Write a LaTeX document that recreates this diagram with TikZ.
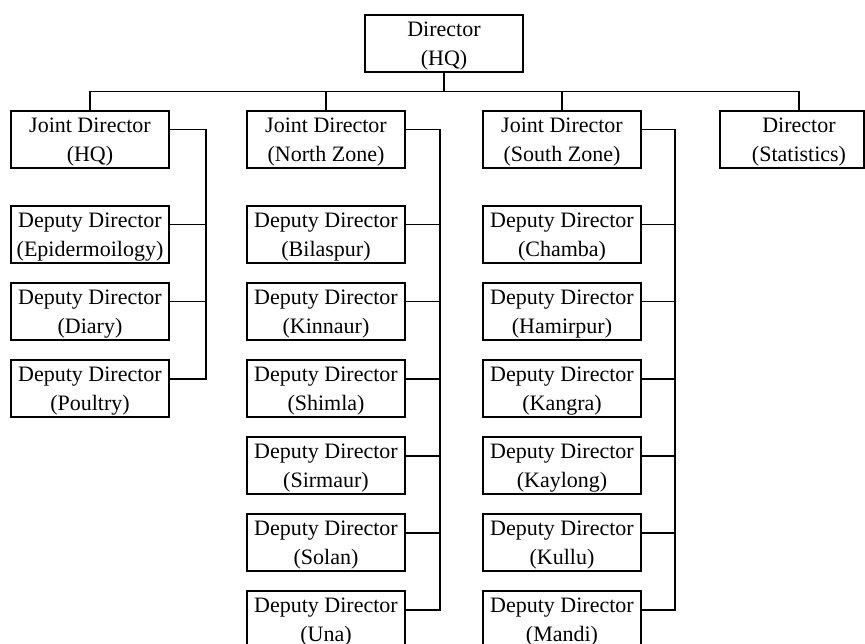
\documentclass[tikz,border=0pt]{standalone}
\usepackage{fontspec}
\setmainfont{Liberation Serif}
\begin{document}
\begin{tikzpicture}[x=1pt,y=-1pt,
  box/.style={draw,line width=1.8pt,minimum width=158pt,minimum height=57pt,
    inner sep=0pt,align=center,text depth=-5pt,
    font=\fontsize{22}{29}\selectfont},
  link/.style={line width=1.8pt}]
\useasboundingbox (0,0) rectangle (865,644);
\clip (0,0) rectangle (865,644);

% top level
\node[box] (top) at (444,43.5) {Director\\(HQ)};
\node[box] (jdh) at (90,139.5) {Joint Director\\(HQ)};
\node[box] (jdn) at (326,139.5) {Joint Director\\(North Zone)};
\node[box] (jds) at (562,139.5) {Joint Director\\(South Zone)};
\node[box,minimum width=144pt] (stat) at (792,139.5)
  {\hspace*{14pt}Director\\\hspace*{14pt}(Statistics)};

% HQ deputies
\node[box] (h1) at (90,234.5) {Deputy Director\\(Epidermoilogy)};
\node[box] (h2) at (90,311.5) {Deputy Director\\(Diary)};
\node[box] (h3) at (90,388.5) {Deputy Director\\(Poultry)};

% North zone deputies
\node[box] (n1) at (326,234.5) {Deputy Director\\(Bilaspur)};
\node[box] (n2) at (326,311.5) {Deputy Director\\(Kinnaur)};
\node[box] (n3) at (326,388.5) {Deputy Director\\(Shimla)};
\node[box] (n4) at (326,465.5) {Deputy Director\\(Sirmaur)};
\node[box] (n5) at (326,542.5) {Deputy Director\\(Solan)};
\node[box] (n6) at (326,619.5) {Deputy Director\\(Una)};

% South zone deputies
\node[box] (s1) at (562,234.5) {Deputy Director\\(Chamba)};
\node[box] (s2) at (562,311.5) {Deputy Director\\(Hamirpur)};
\node[box] (s3) at (562,388.5) {Deputy Director\\(Kangra)};
\node[box] (s4) at (562,465.5) {Deputy Director\\(Kaylong)};
\node[box] (s5) at (562,542.5) {Deputy Director\\(Kullu)};
\node[box] (s6) at (562,619.5) {Deputy Director\\(Mandi)};

% bus below the director
\coordinate (bus) at (0,91.5);
\draw[link] (top.south) -- (top.south |- bus);
\draw[link] (jdh.north) -- (jdh.north |- bus) -- ([xshift=7pt]stat.north |- bus)
  -- ([xshift=7pt]stat.north);
\draw[link] (jdn.north) -- (jdn.north |- bus);
\draw[link] (jds.north) -- (jds.north |- bus);

% trunks on the right of each joint director
\coordinate (htrunk) at (206,0);
\coordinate (ntrunk) at (440,0);
\coordinate (strunk) at (675,0);

\draw[link] ([yshift=-19.5pt]jdh.north east) coordinate (jh) -- (jh -| htrunk)
  -- ([yshift=-19.5pt]h3.north east -| htrunk) -- ([yshift=-19.5pt]h3.north east);
\foreach \n in {h1,h2}
  \draw[link] ([yshift=-19.5pt]\n.north east) coordinate (p) -- (p -| htrunk);

\draw[link] ([yshift=-19.5pt]jdn.north east) coordinate (jn) -- (jn -| ntrunk)
  -- ([yshift=-19.5pt]n6.north east -| ntrunk) -- ([yshift=-19.5pt]n6.north east);
\foreach \n in {n1,n2,n3,n4,n5}
  \draw[link] ([yshift=-19.5pt]\n.north east) coordinate (p) -- (p -| ntrunk);

\draw[link] ([yshift=-19.5pt]jds.north east) coordinate (js) -- (js -| strunk)
  -- ([yshift=-19.5pt]s6.north east -| strunk) -- ([yshift=-19.5pt]s6.north east);
\foreach \n in {s1,s2,s3,s4,s5}
  \draw[link] ([yshift=-19.5pt]\n.north east) coordinate (p) -- (p -| strunk);
\end{tikzpicture}
\end{document}
